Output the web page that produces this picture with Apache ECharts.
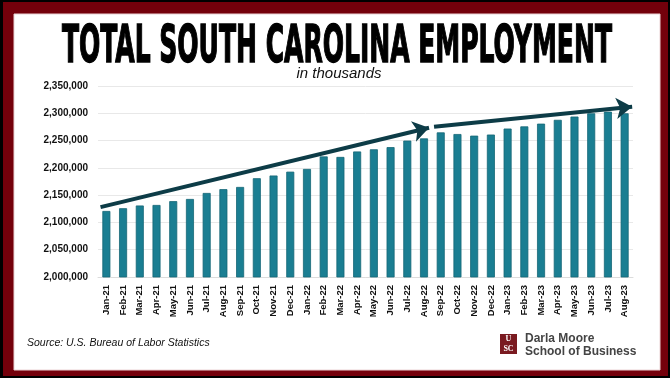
<!DOCTYPE html>
<html>
<head>
<meta charset="utf-8">
<script src="https://cdn.jsdelivr.net/npm/echarts@6/dist/echarts.min.js"></script>
<style>
  html, body { margin: 0; padding: 0; background: #000; }
  #chart { width: 670px; height: 378px; }
</style>
</head>
<body>
<div id="chart"></div>
<script>
// Monthly total nonfarm employment, South Carolina
const months = [
  'Jan-21','Feb-21','Mar-21','Apr-21','May-21','Jun-21','Jul-21','Aug-21','Sep-21','Oct-21','Nov-21','Dec-21',
  'Jan-22','Feb-22','Mar-22','Apr-22','May-22','Jun-22','Jul-22','Aug-22','Sep-22','Oct-22','Nov-22','Dec-22',
  'Jan-23','Feb-23','Mar-23','Apr-23','May-23','Jun-23','Jul-23','Aug-23'
];
const employment = [
  2121000, 2126000, 2131000, 2132000, 2139000, 2143000, 2154000, 2161000, 2165000, 2181000, 2186000, 2193000,
  2198000, 2221000, 2220000, 2230000, 2234000, 2238000, 2250000, 2254000, 2265000, 2262000, 2259000, 2261000,
  2272000, 2276000, 2281000, 2288000, 2294000, 2300000, 2303000, 2300000
];
// Y axis range and step
const yMin = 2000000;
const yMax = 2350000;
const yStep = 50000;
// Trend arrows: [category position, value] pairs (position measured in category slots)
const trendArrow1 = [[-0.35, 2128000], [19.3, 2273500]];
const trendArrow2 = [[19.6, 2275500], [31.45, 2312000]];

const titleText = 'TOTAL SOUTH CAROLINA EMPLOYMENT';
const subtitleText = 'in thousands';
const sourceText = 'Source: U.S. Bureau of Labor Statistics';

const chart = echarts.init(document.getElementById('chart'), null, { renderer: 'canvas' });

// Condense the heavy title so it spans the intended width
const titleFont = 'bold 51px "DejaVu Sans Condensed", "DejaVu Sans", sans-serif';
const ctx = document.createElement('canvas').getContext('2d');
ctx.font = titleFont;
const titleScaleX = 550 / ctx.measureText(titleText).width;

const fmt = v => v.toString().replace(/\B(?=(\d{3})+(?!\d))/g, ',');

chart.setOption({
  animation: false,
  backgroundColor: '#000',
  graphic: [
    { type: 'rect', z: -10, shape: { x: 3, y: 2, width: 665, height: 374 }, style: { fill: '#74000b' } },
    { type: 'rect', z: -9, shape: { x: 14, y: 14, width: 646, height: 356 }, style: { fill: '#fff', stroke: '#ead2d4', lineWidth: 1 } },
    {
      type: 'text', x: 337, y: 48.5, scaleX: titleScaleX,
      style: { text: titleText, font: titleFont, fill: '#000', stroke: '#000', lineWidth: 1.4, textAlign: 'center', textVerticalAlign: 'middle' }
    },
    {
      type: 'text', x: 339, y: 74,
      style: { text: subtitleText, font: 'italic 15px "Liberation Sans", Arial, sans-serif', fill: '#111', textAlign: 'center', textVerticalAlign: 'middle' }
    },
    {
      type: 'text', x: 27, y: 343,
      style: { text: sourceText, font: 'italic 10.5px "Liberation Sans", Arial, sans-serif', fill: '#111', textAlign: 'left', textVerticalAlign: 'middle' }
    },
    // School mark
    { type: 'rect', shape: { x: 500, y: 334, width: 17, height: 20 }, style: { fill: '#7a1a20' } },
    {
      type: 'text', x: 508.5, y: 339,
      style: { text: 'U', font: 'bold 8px "Liberation Serif", serif', fill: '#fff', textAlign: 'center', textVerticalAlign: 'middle' }
    },
    {
      type: 'text', x: 508.5, y: 348.5,
      style: { text: 'SC', font: 'bold 8px "Liberation Serif", serif', fill: '#fff', textAlign: 'center', textVerticalAlign: 'middle' }
    },
    {
      type: 'text', x: 525, y: 339,
      style: { text: 'Darla Moore', font: 'bold 12px "Liberation Sans", Arial, sans-serif', fill: '#444', textAlign: 'left', textVerticalAlign: 'middle' }
    },
    {
      type: 'text', x: 525, y: 352,
      style: { text: 'School of Business', font: 'bold 12px "Liberation Sans", Arial, sans-serif', fill: '#444', textAlign: 'left', textVerticalAlign: 'middle' }
    }
  ],
  grid: { left: 98, right: 37, top: 86, bottom: 101, containLabel: false },
  xAxis: [
    {
      type: 'category',
      data: months,
      axisLine: { show: true, lineStyle: { color: '#dcdcdc', width: 1 } },
      axisTick: { show: false },
      axisLabel: {
        interval: 0, rotate: 90, margin: 8,
        fontSize: 9.5, fontWeight: 'bold', color: '#111',
        fontFamily: '"Liberation Sans", Arial, sans-serif'
      }
    },
    { type: 'value', min: -0.5, max: 31.5, show: false }
  ],
  yAxis: {
    type: 'value',
    min: yMin, max: yMax, interval: yStep,
    axisLine: { show: false },
    axisTick: { show: false },
    splitLine: { lineStyle: { color: '#e8e8e8', width: 1 } },
    axisLabel: {
      margin: 10, fontSize: 10, fontWeight: 'bold', color: '#111',
      fontFamily: '"Liberation Sans", Arial, sans-serif',
      padding: [5, 0, 0, 0],
      formatter: fmt
    }
  },
  series: [
    {
      type: 'bar',
      data: employment,
      barWidth: 8,
      itemStyle: { color: '#1a7e92', borderColor: '#156776', borderWidth: 0.8 }
    },
    {
      type: 'lines',
      coordinateSystem: 'cartesian2d',
      xAxisIndex: 1, yAxisIndex: 0,
      symbol: ['none', 'arrow'],
      symbolSize: [13, 16],
      lineStyle: { color: '#0d3c47', width: 4, opacity: 1 },
      z: 5,
      data: [{ coords: trendArrow1 }, { coords: trendArrow2 }]
    }
  ]
});
</script>
</body>
</html>
